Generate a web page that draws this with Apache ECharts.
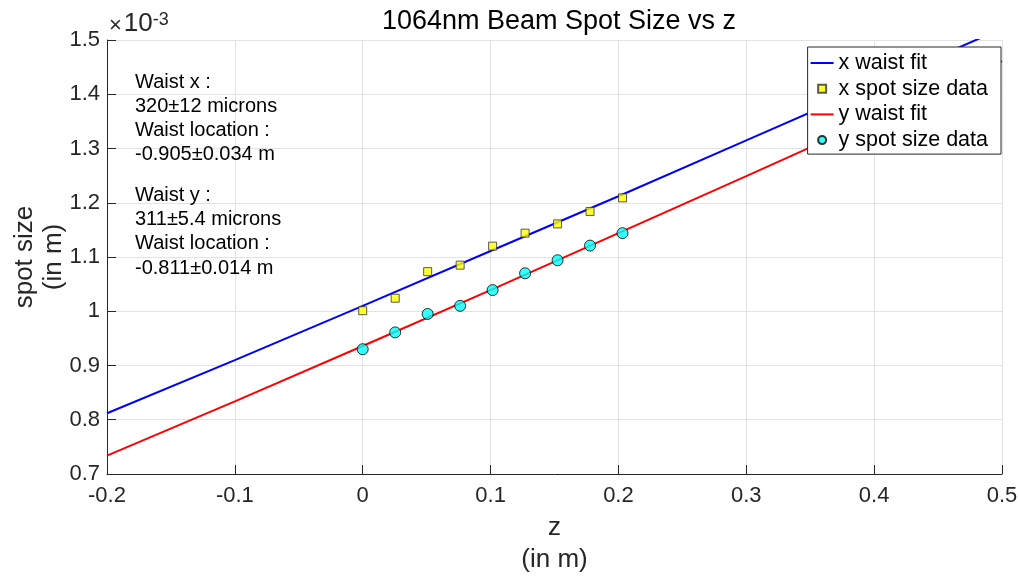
<!DOCTYPE html>
<html><head><meta charset="utf-8">
<script src="https://cdn.jsdelivr.net/npm/echarts@6/dist/echarts.min.js"></script>
<style>html,body{margin:0;padding:0;background:#fff}#c{width:1020px;height:577px}</style>
</head><body><div id="c"></div>
<script>
// data (spot size in units of 1e-3 m, z in m)
const zData = [0, 0.0254, 0.0508, 0.0762, 0.1016, 0.127, 0.1524, 0.1778, 0.2032];
const xSpot = [1.001, 1.024, 1.073, 1.085, 1.120, 1.144, 1.161, 1.184, 1.209];
const ySpot = [0.930, 0.961, 0.995, 1.010, 1.039, 1.070, 1.094, 1.121, 1.144];
const fitZ = [-0.2, -0.1, 0, 0.1, 0.2, 0.3, 0.4, 0.5];
const xFit = [0.812, 0.910, 1.010, 1.111, 1.212, 1.315, 1.418, 1.521];
const yFit = [0.734, 0.834, 0.936, 1.039, 1.144, 1.249, 1.355, 1.461];
const xTicks = [-0.2, -0.1, 0, 0.1, 0.2, 0.3, 0.4, 0.5];
const yTicks = [0.7, 0.8, 0.9, 1, 1.1, 1.2, 1.3, 1.4, 1.5];
const notesX = ['Waist x :', '320\u00b112 microns', 'Waist location :', '-0.905\u00b10.034 m'];
const notesY = ['Waist y :', '311\u00b15.4 microns', 'Waist location :', '-0.811\u00b10.014 m'];

const F = '"Liberation Sans", Arial, Helvetica, sans-serif';
const TC = '#262626';
const chart = echarts.init(document.getElementById('c'), null, {renderer: 'canvas'});
const pair = (a, b) => a.map((v, i) => [v, b[i]]);
const fmt = v => String(Math.round(v * 10) / 10);
chart.setOption({
  animation: false,
  textStyle: {fontFamily: F},
  title: {text: '1064nm Beam Spot Size vs z', left: 554, top: 3, textAlign: 'center',
    textStyle: {fontFamily: F, fontSize: 27, fontWeight: 'normal', color: '#000'}},
  grid: {left: 107, right: 18, top: 40, bottom: 103, outerBoundsMode: 'none', containLabel: false},
  xAxis: {type: 'value', min: -0.2, max: 0.5, interval: 0.1,
    name: 'z\n(in m)', nameLocation: 'middle', nameGap: 38,
    nameTextStyle: {fontFamily: F, fontSize: 26, color: TC, lineHeight: 32, verticalAlign: 'top'},
    axisLine: {show: true, onZero: false, lineStyle: {color: TC, width: 1}},
    axisTick: {show: true, inside: true, length: 9, lineStyle: {color: TC}},
    axisLabel: {fontFamily: F, fontSize: 22, color: TC, margin: 11, formatter: fmt},
    splitLine: {show: true, lineStyle: {color: '#e3e3e3', width: 1}}},
  yAxis: {type: 'value', min: 0.7, max: 1.5, interval: 0.1,
    axisLine: {show: true, onZero: false, lineStyle: {color: TC, width: 1}},
    axisTick: {show: true, inside: true, length: 9, lineStyle: {color: TC}},
    axisLabel: {fontFamily: F, fontSize: 22, color: TC, margin: 7, formatter: fmt},
    splitLine: {show: true, lineStyle: {color: '#e3e3e3', width: 1}}},
  legend: {orient: 'vertical', right: 19, top: 47, backgroundColor: '#fff', z: 100, zlevel: 1,
    borderColor: TC, borderWidth: 1, padding: [5, 13, 3, 3], itemGap: 3.7,
    itemWidth: 23, itemHeight: 8, symbolKeepAspect: true,
    textStyle: {fontFamily: F, fontSize: 21.5, color: '#000', lineHeight: 22},
    data: [
      {name: 'x waist fit', icon: 'path://M0,0h23v2h-23z'},
      {name: 'x spot size data', icon: 'path://M0,0h10v10h-10z'},
      {name: 'y waist fit', icon: 'path://M0,0h23v2h-23z'},
      {name: 'y spot size data', icon: 'circle'}
    ]},
  series: [
    {name: 'x waist fit', type: 'line', data: pair(fitZ, xFit), showSymbol: false, symbol: 'none',
      lineStyle: {color: '#0000ff', width: 2}, itemStyle: {color: '#0000ff'}, clip: true, z: 1},
    {name: 'x spot size data', type: 'scatter', data: pair(zData, xSpot), symbol: 'rect', symbolSize: 8,
      itemStyle: {color: '#ffff00', borderColor: '#333', borderWidth: 1}, z: 2},
    {name: 'y waist fit', type: 'line', data: pair(fitZ, yFit), showSymbol: false, symbol: 'none',
      lineStyle: {color: '#ff0000', width: 2}, itemStyle: {color: '#ff0000'}, clip: true, z: 1},
    {name: 'y spot size data', type: 'scatter', data: pair(zData, ySpot), symbol: 'circle', symbolSize: 11,
      itemStyle: {color: '#00ffff', borderColor: '#000', borderWidth: 1}, z: 2}
  ],
  graphic: [
    {type: 'text', x: 39, y: 257, rotation: Math.PI / 2, z: 5, style: {
      text: 'spot size\n(in m)', fontFamily: F, fontSize: 26, lineHeight: 29, fill: TC,
      align: 'center', verticalAlign: 'middle'}},
    {type: 'text', left: 109, top: 11, z: 5, style: {
      text: '{a|\u00d7}{b|10}{c|-3}', rich: {
        a: {fontFamily: F, fontSize: 22, fill: TC, verticalAlign: 'bottom', padding: [0, 2, 0, 0]},
        b: {fontFamily: F, fontSize: 26, fill: TC, verticalAlign: 'bottom'},
        c: {fontFamily: F, fontSize: 18, fill: TC, verticalAlign: 'top'}}}},
    {type: 'text', left: 135, top: 70, z: 5, style: {
      text: notesX.join('\n'), fontFamily: F, fontSize: 20, lineHeight: 24, fill: '#000'}},
    {type: 'text', left: 135, top: 183, z: 5, style: {
      text: notesY.join('\n'), fontFamily: F, fontSize: 20, lineHeight: 24.3, fill: '#000'}}
  ]
});
</script></body></html>
